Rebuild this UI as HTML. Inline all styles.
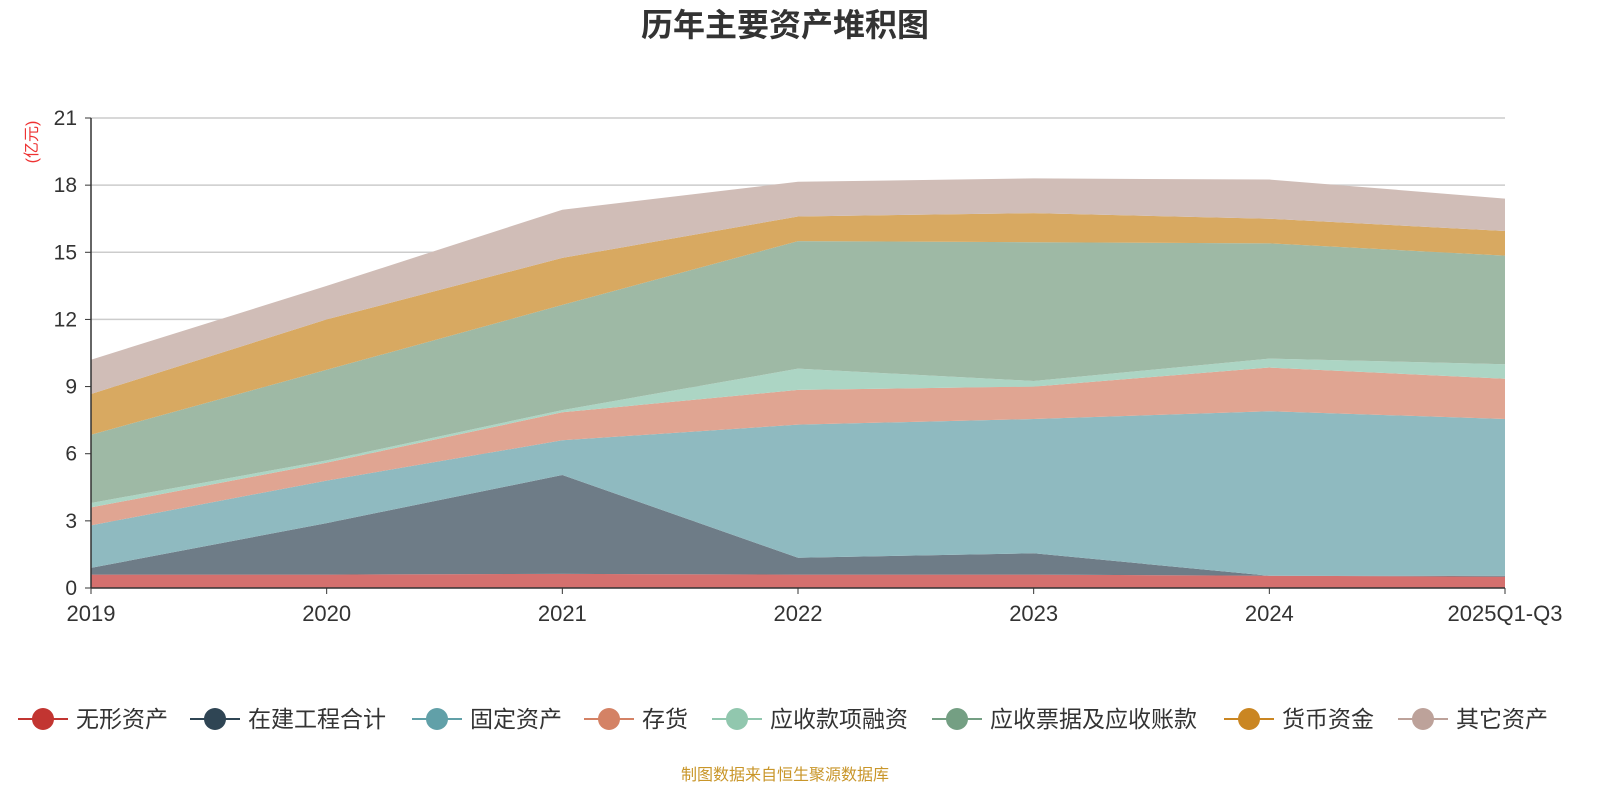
<!DOCTYPE html>
<html><head><meta charset="utf-8">
<style>
body{margin:0;background:#fff;font-family:"Liberation Sans","Noto Sans CJK SC",sans-serif;}
svg text{font-family:"Liberation Sans","Noto Sans CJK SC",sans-serif;}
</style></head>
<body>
<svg id="chart" width="1600" height="800">
<text x="785" y="36" text-anchor="middle" font-size="32" font-weight="bold" fill="#333">历年主要资产堆积图</text>
<text transform="translate(37,142) rotate(-90)" text-anchor="middle" font-size="16" fill="#e33">(亿元)</text>
<g id="grid"></g><g id="areas"></g><g id="axes"></g><g id="legend"></g>
<text x="785" y="780" text-anchor="middle" font-size="16" fill="#c9962a">制图数据来自恒生聚源数据库</text>
</svg>
<script>
const categories=["2019","2020","2021","2022","2023","2024","2025Q1-Q3"];
const seriesNames=["无形资产","在建工程合计","固定资产","存货","应收款项融资","应收票据及应收账款","货币资金","其它资产"];
const s0=[0.6,0.6,0.63,0.6,0.6,0.55,0.5];
const s1=[0.3,2.3,4.42,0.75,0.95,0.0,0.05];
const s2=[1.9,1.9,1.55,5.95,6.0,7.35,7.0];
const s3=[0.8,0.8,1.25,1.55,1.45,1.95,1.8];
const s4=[0.2,0.1,0.1,0.95,0.25,0.4,0.65];
const s5=[3.05,4.05,4.7,5.7,6.2,5.15,4.85];
const s6=[1.82,2.25,2.1,1.1,1.3,1.1,1.1];
const s7=[1.53,1.5,2.15,1.55,1.55,1.75,1.45];
const yTicks=[0,3,6,9,12,15,18,21];
const series=[s0,s1,s2,s3,s4,s5,s6,s7];
const fills=["#d4706e","#6e7c87","#8fbac0","#e0a592","#acd5c4","#9eb9a5","#d8a961","#d0bdb7"];
const lcol=["#c23531","#2f4554","#61a0a8","#d48265","#91c7ae","#749f83","#ca8622","#bda29a"];
const NS="http://www.w3.org/2000/svg";
const X0=91,X1=1505,Y0=588,Y1=118,YMAX=21;
const xs=i=>X0+(X1-X0)*i/(categories.length-1);
const ys=v=>Y0-(Y0-Y1)*v/YMAX;
function mk(t,a,p){const e=document.createElementNS(NS,t);for(const k in a)e.setAttribute(k,a[k]);p.appendChild(e);return e;}
const grid=document.getElementById('grid'),areas=document.getElementById('areas'),axes=document.getElementById('axes'),leg=document.getElementById('legend');
yTicks.forEach(v=>{
 if(v>0){const l=mk('line',{x1:X0,x2:X1,y1:ys(v),y2:ys(v),stroke:'#ccc','stroke-width':1.5},grid);
 
 }
 const t=mk('text',{x:X0-14,y:ys(v)+7,'text-anchor':'end','font-size':21,fill:'#333'},axes);t.textContent=v;
 
 
});
let base=categories.map(()=>0);
series.forEach((s,k)=>{
 const top=base.map((b,i)=>b+s[i]);
 let d='M'+categories.map((c,i)=>xs(i)+','+ys(top[i])).join('L');
 for(let i=categories.length-1;i>=0;i--)d+='L'+xs(i)+','+ys(base[i]);
 const p=mk('path',{d:d+'Z',fill:fills[k]},areas);
 
 
 base=top;
});
const ax=mk('line',{x1:X0,x2:X1,y1:Y0,y2:Y0,stroke:'#333','stroke-width':1.5},axes);


const ay=mk('line',{x1:X0,x2:X0,y1:Y1,y2:Y0,stroke:'#333','stroke-width':1.5},axes);


yTicks.forEach(v=>{mk('line',{x1:X0-6,x2:X0,y1:ys(v),y2:ys(v),stroke:'#333'},axes);});
categories.forEach((c,i)=>{
 mk('line',{x1:xs(i),x2:xs(i),y1:Y0,y2:Y0+6,stroke:'#333'},axes);
 const t=mk('text',{x:xs(i),y:621,'text-anchor':'middle','font-size':22,fill:'#333'},axes);t.textContent=c;
 
 
});
const lx=[18,190,412,584,712,932,1224,1398];
seriesNames.forEach((n,k)=>{
 const g=mk('g',{},leg);
 
 
 mk('line',{x1:lx[k],x2:lx[k]+50,y1:719,y2:719,stroke:lcol[k],'stroke-width':2},g);
 mk('circle',{cx:lx[k]+25,cy:719,r:11,fill:lcol[k]},g);
 const t=mk('text',{x:lx[k]+58,y:727,'font-size':23,fill:'#333'},g);t.textContent=n;
});
</script>
</body></html>
